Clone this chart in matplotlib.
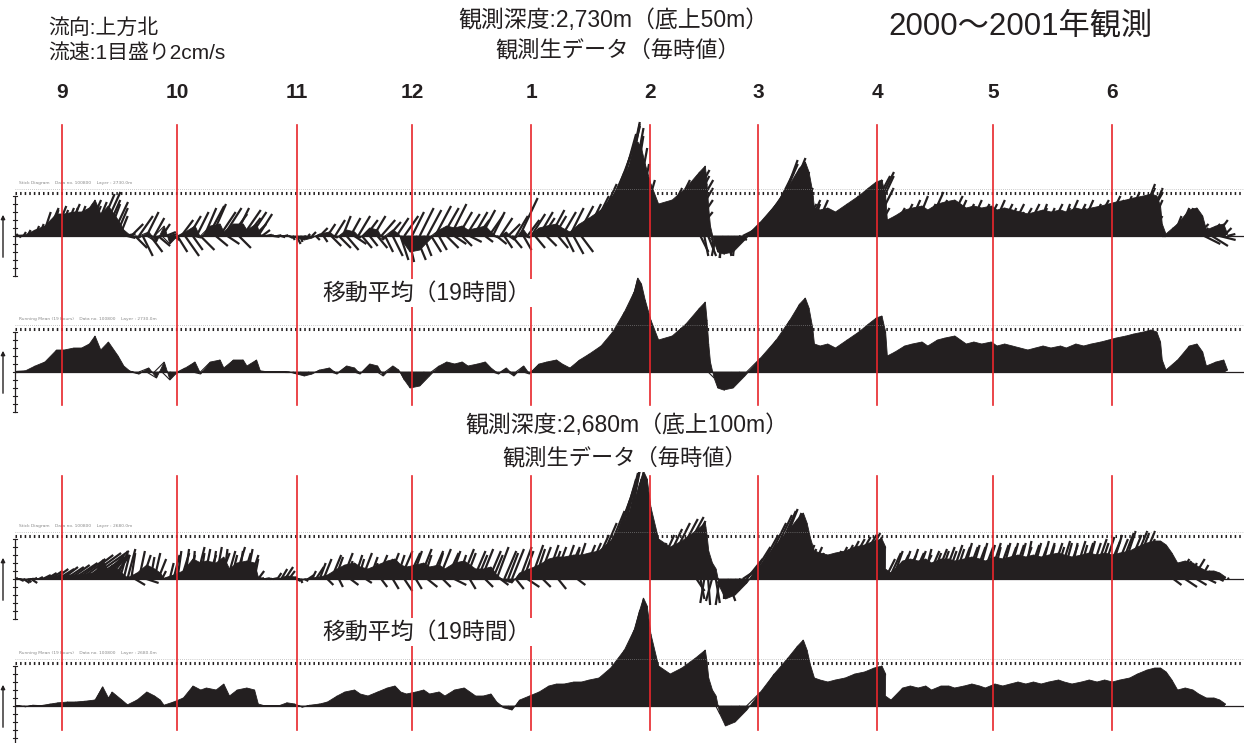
import numpy as np
import matplotlib
matplotlib.use("Agg")
import matplotlib.pyplot as plt
from matplotlib.collections import LineCollection
from matplotlib.lines import Line2D
from matplotlib.transforms import blended_transform_factory

plt.rcParams['font.family'] = ['Liberation Sans', 'Noto Sans CJK JP', 'DejaVu Sans']
INK = '#231f20'
RED = '#e8262b'

# months (day 0 = 2000-09-01)
month_labels = ['9', '10', '11', '12', '1', '2', '3', '4', '5', '6']
month_start_day = [0, 30, 61, 91, 122, 153, 181, 212, 242, 273]

# sticks (east u, north v) in cm/s
raw_start, raw_step = -12, 1      # one stick per day
avg_start, avg_step = -12, 2      # running mean, one stick every 2 days

raw_2730 = [
    (0.5,0.5),(0.3,-0.4),(0.6,1.0),(0.8,1.5),(0.3,0.6),(1.0,2.5),(1.2,3.0),(2.0,6.0),(3.0,7.0),(2.0,6.5),
    (3.0,7.5),(2.5,6.5),(3.0,7.0),(3.5,8.0),(2.0,7.0),(3.0,7.5),(2.5,6.5),(3.0,8.0),(4.0,9.0),(3.0,7.5),
    (3.5,8.5),(4.5,10.5),(5.0,11.0),(4.0,9.0),(3.0,8.0),(4.0,8.5),(3.0,7.0),(2.0,5.0),(3.0,0.5),(2.0,-0.5),
    (3.0,3.0),(3.0,-3.0),(3.5,5.0),(2.5,-5.0),(3.0,6.0),(3.0,-4.0),(2.5,4.5),(3.0,-2.5),(2.0,3.0),(2.5,1.0),
    (2.0,0.5),(1.5,-1.0),(2.5,-4.0),(3.0,4.0),(3.5,-5.0),(3.0,5.0),(2.5,-3.5),(3.0,6.0),(3.5,-3.5),(3.0,7.0),
    (4.0,7.5),(3.5,8.0),(3.0,-2.5),(4.0,6.0),(4.5,7.0),(3.0,-2.0),(4.0,5.5),(3.5,7.0),(3.0,-3.0),(4.5,6.5),
    (3.5,4.5),(4.0,6.0),(3.0,3.0),(3.5,5.5),(2.0,1.5),(1.5,0.3),(1.0,0.2),(1.5,-0.2),(1.0,0.2),(1.0,-0.3),
    (0.8,0.2),(1.0,-0.5),(0.5,-1.0),(1.0,-2.0),(0.5,-1.5),(1.0,-0.5),(0.5,0.5),(1.0,1.0),(1.0,-1.0),(2.0,2.0),
    (1.0,-1.5),(2.0,3.0),(2.5,-2.5),(2.5,4.0),(3.0,-3.0),(2.0,5.0),(3.0,-3.5),(2.5,4.5),(3.0,-2.0),(3.0,5.0),
    (2.5,-3.0),(3.0,4.0),(2.0,-2.5),(3.0,5.0),(2.5,-3.0),(3.5,4.0),(2.0,-4.0),(3.0,3.5),(2.5,-5.0),(3.0,4.5),
    (2.0,-6.0),(3.5,5.0),(1.5,-6.5),(3.0,6.0),(2.5,-6.0),(3.5,7.0),(2.0,-5.0),(3.5,6.5),(2.5,-4.0),(4.0,7.5),
    (2.0,-3.5),(4.0,7.0),(3.0,-3.0),(4.0,8.0),(3.0,-2.0),(3.5,6.0),(2.5,-2.5),(3.5,5.5),(3.0,-1.5),(3.5,6.0),
    (3.0,4.0),(3.5,6.5),(2.0,-1.5),(3.5,5.0),(3.0,6.0),(2.5,-2.0),(3.0,4.5),(2.0,-3.0),(3.0,3.0),(2.5,-3.0),
    (3.0,5.0),(4.5,9.5),(2.0,-3.5),(3.0,4.0),(3.5,5.5),(2.5,-3.0),(3.5,6.0),(3.0,4.5),(2.5,-2.5),(3.5,6.5),
    (3.0,5.0),(2.5,-3.0),(3.5,6.0),(2.0,-4.0),(3.5,7.0),(2.5,-4.5),(4.0,7.5),(3.0,-4.0),(4.0,8.0),(5.0,10.0),
    (6.0,13.0),(7.0,16.0),(7.5,20.0),(7.5,23.0),(7.0,25.5),(7.0,27.5),(6.0,28.5),(5.0,28.0),(5.0,27.0),(4.0,25.0),
    (4.0,22.0),(3.5,18.0),(4.0,14.0),(3.0,10.0),(4.0,8.0),(4.0,6.0),(5.0,9.0),(6.0,12.0),(7.0,14.0),(8.0,15.0),
    (9.0,16.0),(9.0,16.5),(8.0,15.0),(8.0,14.0),(7.0,12.0),(6.0,9.0),(5.0,6.0),(3.0,3.0),(2.0,-4.0),(1.0,-5.0),
    (2.0,-5.0),(0.5,-4.0),(-1.0,-5.0),(0.0,-5.5),(-1.0,-5.5),(1.0,-5.0),(0.0,-4.5),(-0.5,-5.0),(2.0,-1.0),(4.0,2.0),
    (5.0,4.0),(6.0,7.0),(7.0,10.0),(8.0,13.0),(8.0,16.0),(8.0,18.0),(7.0,19.0),(8.0,19.5),(7.0,18.0),(7.0,16.0),
    (6.0,14.0),(6.0,12.0),(5.0,10.0),(5.0,8.0),(4.0,7.0),(4.0,9.0),(3.0,8.0),(4.0,9.0),(3.0,6.0),(3.0,4.0),
    (2.0,3.0),(3.0,5.0),(4.0,7.0),(5.0,9.0),(5.0,10.0),(6.0,11.0),(6.0,12.0),(7.0,13.0),(7.0,14.0),(8.0,15.0),
    (8.0,16.0),(7.0,15.0),(6.0,12.0),(4.0,7.0),(3.0,3.0),(2.0,1.5),(3.0,5.0),(4.0,7.0),(3.0,6.0),(4.0,8.0),
    (3.0,6.0),(4.0,9.0),(3.0,7.0),(4.0,10.0),(3.0,6.0),(4.0,8.0),(5.0,11.0),(3.0,7.0),(4.0,9.0),(3.0,6.0),
    (4.0,8.0),(5.0,10.0),(3.0,7.0),(4.0,9.0),(3.0,6.0),(4.0,8.0),(3.0,7.0),(4.0,9.0),(3.0,6.0),(4.0,8.0),
    (3.0,7.0),(4.0,8.0),(3.0,6.0),(4.0,9.0),(3.0,7.0),(4.0,8.0),(2.0,5.0),(3.0,7.0),(4.0,8.0),(3.0,6.0),
    (4.0,7.0),(3.0,5.0),(4.0,8.0),(3.0,6.0),(4.0,7.0),(3.0,8.0),(4.0,6.0),(3.0,7.0),(4.0,8.0),(3.0,6.0),
    (4.0,7.0),(3.0,8.0),(4.0,9.0),(3.0,6.0),(4.0,8.0),(3.0,7.0),(4.0,9.0),(3.0,6.0),(4.0,8.0),(5.0,9.0),
    (3.0,7.0),(4.0,8.0),(5.0,10.0),(3.0,7.0),(4.0,9.0),(5.0,8.0),(4.0,10.0),(5.0,11.0),(4.0,9.0),(5.0,10.0),
    (6.0,12.0),(5.0,13.0),(6.0,11.0),(5.0,12.0),(4.0,9.0),(3.0,5.0),(1.0,1.0),(0.5,0.2),(1.0,0.0),(1.0,0.5),
    (1.0,2.0),(2.0,5.0),(3.0,7.0),(3.0,6.0),(2.0,7.0),(3.0,5.0),(2.0,4.0),(3.0,3.0),(2.0,2.0),(4.0,-2.0),
    (3.0,3.0),(4.0,-2.5),(3.0,4.0),(4.0,-1.0),(2.0,2.0),(2.0,0.5),
]

avg_2730 = [
    (0.3,0.2),(0.5,0.3),(1.0,1.5),(1.5,2.5),(2.5,5.5),(2.5,5.5),(3.0,6.0),(3.0,6.0),(3.0,7.0),(2.5,9.0),
    (2.0,5.5),(2.0,7.5),(2.5,4.0),(2.0,1.5),(1.5,0.3),(2.0,-0.5),(2.5,1.0),(2.5,-1.5),(2.5,2.5),(2.0,-2.0),
    (1.5,-0.5),(2.0,1.0),(2.5,2.5),(2.0,-0.5),(2.5,2.5),(3.0,3.0),(2.0,1.0),(2.5,3.0),(3.0,3.0),(2.0,1.5),
    (2.5,3.0),(1.5,0.3),(1.0,0.1),(1.0,0.1),(1.0,0.1),(1.0,0.0),(1.0,-0.5),(1.0,-1.0),(1.0,-0.5),(1.0,0.5),
    (1.5,1.0),(1.5,-0.5),(2.0,1.5),(2.0,1.0),(1.5,-0.5),(2.0,2.0),(2.0,1.5),(1.5,-1.0),(2.0,1.5),(1.5,0.5),
    (1.0,-2.0),(0.5,-4.0),(1.0,-3.5),(1.5,-1.0),(2.0,1.5),(2.0,2.5),(2.0,2.0),(2.0,2.5),(1.5,1.5),(2.0,2.0),
    (2.0,2.5),(1.5,1.0),(1.5,-0.5),(1.5,1.0),(1.5,-1.0),(2.0,1.5),(1.5,-0.5),(2.0,2.0),(2.0,2.5),(2.5,3.0),
    (2.0,2.0),(2.0,1.0),(2.5,3.0),(3.0,4.5),(4.0,6.5),(5.0,10.0),(6.0,15.0),(6.5,20.0),(5.5,23.5),(4.5,22.0),
    (3.5,18.0),(3.0,13.0),(3.0,8.0),(4.5,9.0),(6.0,12.0),(7.5,16.0),(7.0,17.5),(5.5,13.0),(4.0,7.0),(2.5,2.5),
    (1.5,-1.5),(0.5,-4.0),(0.0,-4.5),(0.5,-4.0),(1.5,-1.0),(3.5,3.5),(5.5,8.0),(7.0,13.0),(7.5,17.0),(7.0,18.5),
    (6.0,16.0),(5.0,11.0),(3.5,7.0),(3.0,6.5),(3.0,7.0),(3.0,6.0),(4.0,8.0),(5.0,10.0),(5.5,12.0),(5.5,13.5),
    (5.0,14.0),(4.0,10.0),(2.5,4.0),(2.5,5.0),(3.0,6.5),(3.0,7.0),(3.5,7.5),(3.0,6.5),(3.5,8.0),(3.5,8.5),
    (4.0,9.0),(3.5,8.0),(3.0,7.0),(3.0,7.5),(3.0,7.0),(3.5,7.5),(3.0,6.5),(3.0,7.0),(3.0,6.5),(3.0,6.0),
    (3.0,5.5),(3.0,6.0),(3.0,6.5),(3.0,6.0),(3.5,6.5),(3.0,6.0),(3.5,7.0),(3.5,6.5),(3.5,7.0),(4.0,7.5),
    (4.0,8.0),(4.0,8.5),(4.5,9.0),(4.5,9.5),(5.0,10.0),(5.0,10.5),(4.5,10.0),(3.5,7.5),(2.0,3.0),(1.0,0.5),
    (2.0,3.0),(3.0,6.5),(3.0,7.0),(2.5,5.0),(1.5,1.5),(2.0,2.5),(2.0,3.0),(1.0,0.5),
]

raw_2680 = [
    (0.5,0.3),(1.0,-0.5),(1.5,-1.0),(1.0,-0.8),(1.5,-1.0),(0.5,0.3),(1.0,0.5),(2.0,1.0),(2.5,1.5),(3.0,2.0),
    (3.5,2.5),(4.0,2.5),(4.0,3.0),(4.5,3.0),(5.0,3.5),(6.0,4.0),(7.0,5.0),(8.0,6.0),(9.0,6.5),(10.0,7.0),
    (9.0,6.0),(8.0,5.5),(6.0,6.0),(5.0,5.5),(4.0,5.0),(4.5,6.0),(3.0,6.5),(2.0,7.0),(1.5,6.0),(2.0,7.5),
    (1.0,6.5),(2.5,-1.5),(1.5,7.0),(2.0,6.0),(3.0,-1.0),(1.0,5.5),(1.5,6.5),(2.0,5.0),(1.0,2.0),(1.5,0.5),
    (1.0,4.0),(1.5,6.0),(1.0,7.0),(2.0,6.5),(1.0,7.5),(1.5,6.0),(0.5,7.0),(2.0,8.0),(1.0,6.5),(1.5,7.5),
    (2.0,6.0),(1.0,7.0),(1.5,8.0),(2.5,6.5),(1.0,7.5),(2.0,7.0),(1.5,6.0),(2.5,8.0),(1.0,7.0),(2.0,6.5),
    (1.5,7.5),(2.0,6.0),(1.0,5.0),(1.5,2.0),(0.5,0.3),(1.0,0.2),(0.5,0.1),(1.0,0.2),(1.0,1.5),(1.5,2.5),
    (2.0,3.0),(1.5,2.0),(1.0,0.5),(1.0,-0.5),(0.5,-1.0),(1.0,-0.5),(1.5,1.0),(1.0,2.0),(2.0,3.0),(1.5,4.0),
    (2.0,5.0),(1.5,-1.5),(2.5,6.0),(2.0,5.5),(1.0,-2.0),(2.5,6.5),(1.5,4.5),(2.0,-1.5),(2.0,6.0),(1.5,5.0),
    (2.5,6.5),(1.5,-1.0),(2.0,5.5),(1.0,4.0),(2.5,6.0),(1.5,-2.0),(2.0,5.0),(2.5,6.5),(1.5,-2.5),(2.0,6.0),
    (3.0,7.0),(2.0,-3.0),(3.0,6.5),(2.5,7.0),(1.5,-2.5),(3.0,7.5),(2.0,6.0),(2.5,-2.0),(3.0,7.0),(2.0,6.5),
    (3.0,7.5),(2.0,-2.0),(3.0,6.5),(2.5,7.0),(3.0,-1.5),(2.0,6.0),(3.0,7.5),(2.5,6.5),(1.5,-2.5),(3.0,7.0),
    (2.5,6.0),(3.0,7.5),(2.0,-2.0),(3.0,7.0),(2.5,6.0),(3.0,8.0),(2.0,-1.5),(3.0,7.0),(2.5,6.5),(3.0,7.5),
    (2.0,-2.5),(3.0,8.0),(2.5,7.0),(3.0,-2.0),(3.0,8.5),(2.5,7.5),(3.0,8.0),(2.0,-2.0),(3.0,8.5),(2.5,7.0),
    (3.0,8.0),(2.0,-2.5),(3.0,8.5),(3.5,8.0),(2.5,7.5),(3.0,9.0),(2.0,-1.5),(3.5,8.5),(4.0,9.0),(5.0,11.0),
    (6.0,14.0),(7.0,17.0),(7.5,20.0),(7.5,23.0),(7.0,25.0),(6.5,26.5),(6.0,27.5),(5.0,27.0),(4.5,25.0),(4.0,22.0),
    (4.0,19.0),(3.5,16.0),(4.0,13.0),(3.0,10.0),(3.5,8.0),(4.0,9.0),(5.0,11.0),(6.0,12.5),(7.0,14.0),(8.0,15.0),
    (8.5,15.5),(8.0,14.5),(7.0,13.0),(6.5,11.0),(5.0,8.0),(4.0,6.0),(3.0,4.0),(2.0,-3.0),(1.0,-5.0),(-1.0,-6.0),
    (0.5,-6.5),(-1.5,-5.5),(1.0,-6.0),(-1.0,-6.5),(0.0,-5.0),(2.0,-5.5),(-0.5,-4.5),(1.0,-3.0),(2.0,-1.0),(3.0,2.0),
    (4.0,5.0),(5.0,8.0),(6.0,11.0),(7.0,14.0),(7.5,16.0),(7.5,17.0),(7.0,17.5),(7.0,16.5),(6.5,15.0),(6.0,13.0),
    (5.0,11.0),(4.5,9.0),(4.0,8.0),(3.0,7.0),(3.5,8.5),(3.0,7.5),(3.5,8.0),(3.0,6.5),(2.5,5.0),(3.0,6.0),
    (3.0,6.0),(3.5,7.0),(4.0,8.0),(4.5,8.5),(5.0,9.5),(5.5,10.0),(6.0,10.5),(6.5,11.0),(6.5,11.5),(6.0,10.5),
    (5.0,9.0),(4.0,7.0),(3.0,4.0),(1.5,1.5),(1.0,0.5),(1.5,1.5),(2.5,5.0),(3.0,6.5),(2.5,7.0),(3.0,6.0),
    (2.5,7.0),(3.0,6.0),(2.5,7.5),(3.0,6.5),(2.5,7.0),(3.0,6.0),(2.0,7.5),(3.0,7.0),(2.5,6.5),(3.0,7.5),
    (2.5,7.0),(3.0,8.0),(2.5,7.0),(3.0,8.5),(2.5,7.5),(3.0,8.0),(2.5,9.0),(3.0,8.0),(2.5,8.5),(3.0,8.0),
    (2.5,9.0),(3.0,8.0),(2.5,8.5),(3.0,9.0),(2.0,8.0),(3.0,8.5),(2.5,9.0),(3.0,8.0),(2.5,9.0),(3.0,8.5),
    (2.5,9.0),(3.0,8.0),(2.0,9.5),(3.0,8.5),(2.5,9.0),(3.0,8.0),(2.5,9.5),(3.0,9.0),(2.0,8.5),(3.0,9.0),
    (2.5,8.0),(3.0,9.5),(2.5,9.0),(3.0,8.5),(2.0,9.0),(3.0,9.5),(2.5,8.5),(3.0,9.0),(2.5,9.5),(3.0,9.0),
    (3.5,10.0),(3.0,9.0),(3.5,10.5),(4.0,9.5),(3.5,11.0),(4.0,10.0),(4.5,11.5),(4.0,12.0),(4.5,11.0),(5.0,12.0),
    (4.5,11.5),(5.0,12.0),(4.0,10.0),(3.5,8.0),(3.0,6.0),(2.0,4.0),(1.5,2.5),(1.0,1.0),(2.0,2.0),(2.5,3.0),
    (3.0,4.0),(2.0,-1.5),(3.0,5.0),(2.5,4.5),(3.0,-2.0),(2.0,4.0),(3.0,5.0),(2.5,-1.5),(2.0,3.5),(1.5,2.0),
    (2.0,-1.0),(1.5,1.5),(1.0,0.5),(1.0,-0.5),(0.5,0.5),(0.5,0.2),
]

avg_2680 = [
    (0.5,0.1),(0.5,-0.2),(0.5,0.2),(0.5,0.1),(1.0,0.5),(1.0,0.8),(1.5,1.0),(1.5,1.0),(2.0,1.2),(2.5,1.5),
    (2.5,4.8),(2.0,2.0),(1.0,3.5),(1.5,1.5),(1.0,0.3),(1.5,1.5),(2.0,3.5),(2.0,2.5),(1.5,1.5),(0.5,0.2),
    (1.0,1.0),(1.5,2.0),(2.0,5.0),(2.0,4.0),(1.5,4.5),(2.0,4.0),(2.0,5.5),(1.5,2.5),(1.5,4.0),(2.0,4.5),
    (2.0,4.0),(1.0,0.5),(0.5,0.1),(0.5,0.1),(0.5,0.1),(0.5,0.8),(0.5,0.5),(0.5,-0.3),(0.5,0.2),(1.0,0.5),
    (1.0,1.0),(1.5,2.5),(1.5,3.5),(2.0,4.0),(1.5,3.0),(1.5,2.5),(2.0,3.5),(2.5,4.5),(2.5,5.0),(2.0,3.5),
    (1.5,3.0),(2.0,3.5),(2.0,4.0),(1.5,3.0),(2.0,3.5),(1.5,2.5),(2.0,4.0),(2.5,4.5),(2.0,3.5),(1.5,2.5),
    (1.5,2.5),(1.5,3.0),(1.0,1.0),(1.0,-0.5),(1.0,-1.0),(1.0,1.5),(1.5,2.5),(2.0,3.5),(2.5,5.0),(2.5,5.5),
    (2.5,5.5),(3.0,6.0),(3.0,6.0),(3.0,6.5),(3.5,7.0),(4.5,9.5),(6.0,14.0),(6.5,19.0),(6.0,24.0),(5.0,27.0),
    (4.0,25.0),(3.0,18.0),(3.0,10.0),(4.0,8.0),(5.0,9.5),(6.5,12.0),(7.0,14.0),(5.5,11.0),(4.0,7.0),(3.0,4.0),
    (2.0,2.5),(1.0,-2.0),(0.5,-5.0),(1.0,-4.0),(2.0,-1.0),(3.5,3.5),(5.0,8.0),(6.5,12.0),(7.0,15.0),(6.5,16.5),
    (5.5,14.0),(4.5,10.0),(3.5,7.0),(3.0,6.5),(3.0,6.0),(3.0,6.5),(3.5,7.0),(4.0,8.0),(4.5,8.5),(5.0,9.5),
    (5.0,10.0),(4.0,8.0),(2.0,2.5),(1.5,1.5),(2.5,4.5),(2.5,5.0),(2.5,4.5),(2.5,5.0),(2.0,4.0),(2.5,5.0),
    (2.5,5.0),(2.0,4.5),(2.5,5.0),(2.5,5.5),(2.5,5.0),(2.0,4.5),(2.5,5.5),(2.5,5.0),(2.5,5.5),(2.5,6.0),
    (2.5,5.5),(2.5,6.0),(2.5,5.5),(2.5,6.0),(3.0,6.5),(2.5,6.0),(2.5,5.5),(3.0,6.0),(3.0,6.5),(3.0,6.0),
    (3.0,6.5),(3.0,6.0),(3.0,6.5),(3.5,7.0),(3.5,8.0),(4.0,9.0),(4.0,9.5),(3.5,9.5),(3.0,8.5),(2.5,6.5),
    (2.0,4.0),(2.0,4.5),(2.0,4.0),(1.5,3.0),(1.5,2.0),(1.5,2.0),(1.0,1.5),(0.5,0.5),
]

# layout (pixels of the 1244x743 picture)
W, H = 1244, 743
SEP1_PX, PX_PER_DAY = 62, 3.846
AXIS_PX, ARROW_PX, END_PX = 15, 3, 1243
PX_PER_CMS = 4.0
# (raw sticks or None, mean sticks, zero line y, header)
panels = [
    (raw_2730, avg_2730, 236, 'Stick Diagram    Data no. 100800    Layer : 2730.0m'),
    (None, avg_2730, 372, 'Running Mean (19 hours)    Data no. 100800    Layer : 2730.0m'),
    (raw_2680, avg_2680, 579, 'Stick Diagram    Data no. 100800    Layer : 2680.0m'),
    (None, avg_2680, 706, 'Running Mean (19 hours)    Data no. 100800    Layer : 2680.0m'),
]

fig = plt.figure(figsize=(W / 100, H / 100), dpi=100)
x0 = -SEP1_PX / PX_PER_DAY
x1 = (W - SEP1_PX) / PX_PER_DAY
axis_day = (AXIS_PX - SEP1_PX) / PX_PER_DAY
arrow_day = (ARROW_PX - SEP1_PX) / PX_PER_DAY
end_day = (END_PX - SEP1_PX) / PX_PER_DAY
top_px, bot_px = 130, 50


def sticks_xy(ax, sticks, start, step):
    uv = np.array(sticks)
    u, v = uv[:, 0], uv[:, 1]
    t = start + step * np.arange(len(uv))
    # days per cm/s so that sticks keep their true direction on screen
    p0 = ax.transData.transform((0, 0))
    dx = ax.transData.transform((1, 0))[0] - p0[0]
    dy = ax.transData.transform((0, 1))[1] - p0[1]
    return t, t + (dy / dx) * u, v


axes = []
for raw, avg, zero_px, header in panels:
    ax = fig.add_axes([0, 1 - (zero_px + bot_px) / H, 1, (top_px + bot_px) / H])
    ax.set_xlim(x0, x1)
    ax.set_ylim(-bot_px / PX_PER_CMS, top_px / PX_PER_CMS)
    ax.axis('off')
    axes.append(ax)

    # swept area of the mean current
    t, tx, v = sticks_xy(ax, avg, avg_start, avg_step)
    ax.fill(np.r_[t[0], tx, t[-1]], np.r_[0, v, 0], color=INK, lw=0.6, zorder=2)
    segs = [[(a, 0), (b, c)] for a, b, c in zip(t, tx, v)]
    ax.add_collection(LineCollection(segs, colors=INK, linewidths=0.8, zorder=2))
    if raw is not None:
        t, tx, v = sticks_xy(ax, raw, raw_start, raw_step)
        segs = [[(a, 0), (b, c)] for a, b, c in zip(t, tx, v)]
        ax.add_collection(LineCollection(segs, colors=INK, linewidths=1.6, zorder=2))

    # baseline, speed axis and reference lines
    ax.plot([axis_day, end_day], [0, 0], color=INK, lw=0.9, zorder=3)
    ax.plot([axis_day, axis_day], [-10, 10], color=INK, lw=0.9)
    for yt in np.arange(-10, 11, 2):
        ax.plot([axis_day - 0.6, axis_day + 0.6], [yt, yt], color=INK, lw=0.8)
    ax.plot([axis_day, end_day], [10.75, 10.75], color=INK, lw=2.2, ls=(0, (0.5, 1.0)))
    ax.plot([axis_day, end_day], [11.8, 11.8], color='#9a9a9a', lw=0.5, ls=(0, (1, 2)))
    ax.text(axis_day + 1, 13.3, header, fontsize=3.2, color='#8a8a8a', family='DejaVu Sans', va='center')
    ax.annotate('', xy=(arrow_day, 6), xytext=(arrow_day, -6),
                arrowprops=dict(arrowstyle='-|>', color=INK, lw=1.0, mutation_scale=6))

# red month lines, on top of everything
trans = blended_transform_factory(axes[0].transData, fig.transFigure)
for d in month_start_day:
    for ya, yb in [(125, 405), (476, 730)]:
        fig.add_artist(Line2D([d, d], [1 - ya / H, 1 - yb / H], transform=trans,
                              color=RED, lw=1.2, zorder=5))
for d, lab in zip(month_start_day, month_labels):
    fig.text(d, 1 - 92 / H, lab, transform=trans, ha='center', va='center', fontsize=15,
             fontweight='bold', family='Liberation Sans', color=INK)


def ftext(x, y, s, size, ha='center', box=False):
    kw = dict(facecolor='white', edgecolor='none', pad=1.5) if box else None
    fig.text(x / W, 1 - y / H, s, fontsize=size, ha=ha, va='center', color=INK, bbox=kw, zorder=6)


ftext(48, 28, '流向:上方北', 15, ha='left')
ftext(48, 54, '流速:1目盛り2cm/s', 15, ha='left')
ftext(613, 21, '観測深度:2,730m（底上50m）', 16.5)
ftext(618, 51, '観測生データ（毎時値）', 16)
ftext(1020, 27, '2000〜2001年観測', 22.5)
ftext(427, 293, '移動平均（19時間）', 16.5, box=True)
ftext(627, 425, '観測深度:2,680m（底上100m）', 16.5, box=True)
ftext(625, 459, '観測生データ（毎時値）', 16, box=True)
ftext(427, 632, '移動平均（19時間）', 16.5, box=True)

fig.savefig('out.png', dpi=100, facecolor='white')
